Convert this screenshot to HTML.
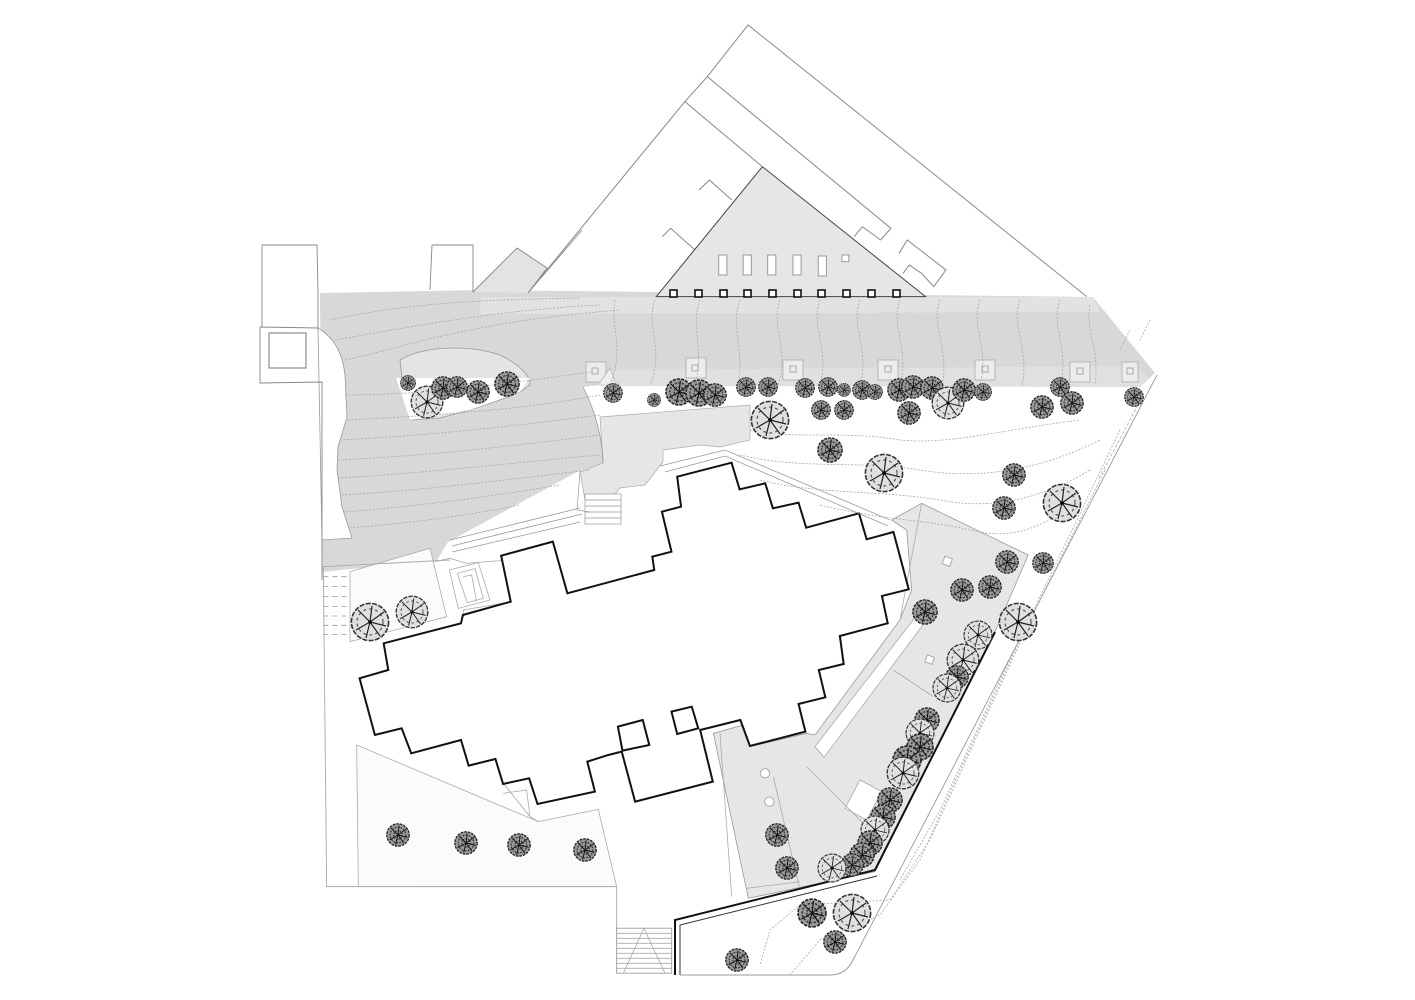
<!DOCTYPE html>
<html><head><meta charset="utf-8"><style>html,body{margin:0;padding:0;background:#fff}svg{display:block}</style></head>
<body>
<svg width="1415" height="1000" viewBox="0 0 1415 1000" xmlns="http://www.w3.org/2000/svg">
<defs>
<pattern id="st" width="4" height="4" patternUnits="userSpaceOnUse"><rect width="4" height="4" fill="#fff"/><circle cx="1" cy="1" r="0.5" fill="#bbb"/><circle cx="3" cy="3" r="0.4" fill="#ccc"/></pattern>
<symbol id="tD" viewBox="-10 -10 20 20">
<circle r="9.3" fill="#9a9a9a" stroke="#222" stroke-width="1.1" stroke-dasharray="2.2 0.8"/>
<circle r="6.5" fill="none" stroke="#333" stroke-width="1" stroke-dasharray="1.5 1"/>
<circle r="3.5" fill="none" stroke="#222" stroke-width="1" stroke-dasharray="1 1"/>
<path d="M0 0L7 -5M0 0L-6 -6M0 0L-7 4M0 0L5 7M0 0L1 -8M0 0L-2 8M0 0L8 2" stroke="#111" stroke-width="0.8"/>
</symbol>
<symbol id="tL" viewBox="-10 -10 20 20">
<circle r="9.3" fill="#e0e0e0" stroke="#333" stroke-width="0.8" stroke-dasharray="2.5 0.7"/>
<circle r="6.5" fill="none" stroke="#555" stroke-width="0.6" stroke-dasharray="1.5 1.5"/>
<path d="M0 0L7 -5M0 0L-6 -6M0 0L-7 4M0 0L5 7M0 0L1 -8M0 0L-2 8M0 0L8 2" stroke="#222" stroke-width="0.6"/>
<circle r="0.9" fill="#000"/>
</symbol>
</defs>

<!-- top outlines (zoom5 coordinates) -->
<g transform="translate(540,20) scale(0.408,0.3333)" fill="none" stroke="#888" stroke-width="1" vector-effect="non-scaling-stroke">
<path vector-effect="non-scaling-stroke" d="M0,775 L355,245 L410,170 L510,15 L1340,830"/>
<path vector-effect="non-scaling-stroke" d="M410,170 L860,625 L835,660 L790,620 L770,650"/>
<path vector-effect="non-scaling-stroke" d="M355,245 L545,440"/>
<path vector-effect="non-scaling-stroke" d="M390,510 L415,480 L470,540 M300,650 L320,625 L380,690"/>
<path vector-effect="non-scaling-stroke" d="M880,700 L900,660 L995,750 L965,800 L935,760 L905,735 L890,760"/>
</g>

<!-- big grey area -->
<path d="M320,293 L480,290 L1093,297 L1155,373 L1140,387 L600,385 L583,387 C595,410 603,440 603,463 L577,472 L448,542 L437,560 L322,572 Z" fill="#d8d8d8"/>
<path d="M480,297 L1093,297 L1100,312 L480,314 Z" fill="#e2e2e2"/>
<path d="M600,370 L1130,366 L1150,378 L1140,387 L600,386 Z" fill="#e0e0e0"/>
<path d="M473,292 L517,248 L547,268 L528,293 Z" fill="#e3e3e3"/>
<!-- white notch left -->
<path d="M318,328 C335,338 343,355 345,375 L347,417 L338,447 L337,470 L342,507 L352,538 L322,540 Z" fill="#fff" stroke="#999" stroke-width="0.8"/>
<!-- left blocks -->
<path d="M262,245 L317,245 L318,293 L318,328 L260,327 L260,383 L322,382 L322,580 M432,245 L473,245 L473,292 M432,245 L430,290 M473,292 L517,248 L547,268 L528,293" fill="none" stroke="#888" stroke-width="0.9"/>
<path d="M262,245 L262,327" stroke="#888" stroke-width="0.9"/>
<rect x="269" y="333" width="37" height="35" fill="none" stroke="#777" stroke-width="1"/>
<path d="M528,293 L582,230" stroke="#888" stroke-width="0.9"/>

<!-- triangle building (zoom5) -->
<g transform="translate(540,20) scale(0.408,0.3333)">
<path d="M285,830 L545,440 L945,830 Z" fill="#e6e6e6" stroke="#444" stroke-width="1" vector-effect="non-scaling-stroke"/>
<g fill="#fff" stroke="#999" stroke-width="1">
<rect x="438" y="705" width="20" height="60" vector-effect="non-scaling-stroke"/>
<rect x="498" y="705" width="20" height="60" vector-effect="non-scaling-stroke"/>
<rect x="558" y="705" width="20" height="60" vector-effect="non-scaling-stroke"/>
<rect x="620" y="705" width="20" height="60" vector-effect="non-scaling-stroke"/>
<rect x="682" y="708" width="20" height="60" vector-effect="non-scaling-stroke"/>
<rect x="740" y="705" width="17" height="20" vector-effect="non-scaling-stroke"/>
</g>
</g>
<g fill="#fff" stroke="#111" stroke-width="1.6">
<rect x="670" y="290" width="7" height="7"/><rect x="695" y="290" width="7" height="7"/><rect x="720" y="290" width="7" height="7"/><rect x="744" y="290" width="7" height="7"/><rect x="769" y="290" width="7" height="7"/><rect x="794" y="290" width="7" height="7"/><rect x="818" y="290" width="7" height="7"/><rect x="843" y="290" width="7" height="7"/><rect x="868" y="290" width="7" height="7"/><rect x="893" y="290" width="7" height="7"/>
</g>
<!-- band squares -->
<g fill="#ececec" stroke="#aaa" stroke-width="0.8">
<rect x="586" y="362" width="20" height="20"/><rect x="686" y="358" width="20" height="20"/><rect x="783" y="360" width="20" height="20"/><rect x="878" y="360" width="20" height="20"/><rect x="975" y="360" width="20" height="20"/><rect x="1070" y="362" width="20" height="20"/><rect x="1122" y="362" width="16" height="20"/>
</g>
<g fill="none" stroke="#999" stroke-width="0.8">
<rect x="592" y="368" width="6" height="6"/><rect x="692" y="365" width="6" height="6"/><rect x="790" y="366" width="6" height="6"/><rect x="885" y="366" width="6" height="6"/><rect x="982" y="366" width="6" height="6"/><rect x="1077" y="368" width="6" height="6"/><rect x="1127" y="368" width="6" height="6"/>
</g>
<!-- left planting bed -->
<path d="M400,360 C425,345 470,345 500,355 C520,365 530,375 530,385 L520,392 L500,400 L470,410 L440,418 L410,420 L404,395 Z" fill="#e4e4e4" stroke="#999" stroke-width="0.8"/>
<path d="M396,378 L530,378 L520,392 L470,410 L410,420 Z" fill="#fff"/>

<!-- light grey upper-middle patch -->
<path d="M600,417 L750,405 L750,440 L720,447 L700,445 L663,450 L663,462 L645,485 L620,488 L610,500 L585,500 L580,472 L603,463 Z" fill="#e6e6e6" stroke="#aaa" stroke-width="0.7"/>
<path d="M583,387 C595,410 603,440 603,463" fill="none" stroke="#999" stroke-width="0.8"/>
<path d="M600,385 L600,382 L610,368 L615,382" fill="#eee" stroke="#aaa" stroke-width="0.7"/>
<!-- stairs -->
<g stroke="#999" stroke-width="0.7" fill="#fff">
<rect x="585" y="494" width="36" height="30"/>
<path d="M585,500H621M585,506H621M585,512H621M585,518H621" fill="none"/>
<path d="M580,472 L577,510 L590,512" fill="none"/>
</g>
<!-- walls -->
<g fill="none" stroke="#999" stroke-width="0.8">
<path d="M450,540 L580,508 M452,546 L582,514 M452,552 L580,522"/>
<path d="M660,466 L725,450 L890,520 M665,472 L725,456 L888,526"/>
</g>

<!-- right light grey area (zoom3) -->
<g transform="translate(700,480) scale(0.3333)">
<path vector-effect="non-scaling-stroke" d="M575,120 L665,70 L985,225 L885,455 L525,1175 L145,1255 L40,760 L130,735 L150,800 L320,760 L345,765 L600,420 L635,330 L620,150 Z" fill="#e6e6e6" stroke="#999" stroke-width="0.8"/>
<path vector-effect="non-scaling-stroke" d="M345,800 L655,400 L680,420 L372,832 Z" fill="#fff" stroke="#aaa" stroke-width="0.8"/>
<path vector-effect="non-scaling-stroke" d="M435,985 L480,900 L545,935 L500,1020 Z" fill="#fff" stroke="#aaa" stroke-width="0.8"/>
<path vector-effect="non-scaling-stroke" d="M0,745 L0,915 L40,905 M60,760 L95,1250 M220,890 L300,1230 M140,1225 L300,1205 M320,860 L500,1040 M580,570 L700,650 M665,70 L600,420" fill="none" stroke="#aaa" stroke-width="0.8"/>
<rect x="730" y="232" width="24" height="24" transform="rotate(20 742 244)" fill="#fff" stroke="#aaa" vector-effect="non-scaling-stroke"/>
<rect x="678" y="528" width="22" height="22" transform="rotate(20 689 539)" fill="#fff" stroke="#aaa" vector-effect="non-scaling-stroke"/>
<circle cx="195" cy="880" r="14" fill="#fff" stroke="#aaa" vector-effect="non-scaling-stroke"/>
<circle cx="208" cy="965" r="14" fill="#fff" stroke="#aaa" vector-effect="non-scaling-stroke"/>
</g>

<!-- bottom-left (zoom4) -->
<g transform="translate(250,540) scale(0.3333)">
<path vector-effect="non-scaling-stroke" d="M320,615 L865,845 L1045,808 L1100,1040 L325,1040 Z" fill="url(#st)" stroke="#aaa" stroke-width="0.8"/>
<path vector-effect="non-scaling-stroke" d="M300,95 L540,25 L590,230 L300,305 Z" fill="url(#st)" stroke="#aaa" stroke-width="0.8"/>
<path vector-effect="non-scaling-stroke" d="M220,80 L230,1040 L1100,1040 L1100,1300 M220,80 L600,60" fill="none" stroke="#aaa" stroke-width="0.9"/>
<path vector-effect="non-scaling-stroke" d="M220,110H295M220,140H295M220,170H295M220,200H295M220,228H295M220,256H295M220,284H295" fill="none" stroke="#999" stroke-dasharray="5 4" stroke-width="0.8"/>
<path vector-effect="non-scaling-stroke" d="M555,65 L600,55 L650,70 L775,60 L785,185 L640,210 L640,240" fill="none" stroke="#aaa" stroke-width="0.8"/>
<path vector-effect="non-scaling-stroke" d="M598,90 L685,68 L720,180 L625,205 Z M622,100 L675,86 L700,175 L652,188 Z M640,110 L665,105 L680,185" fill="none" stroke="#aaa" stroke-width="0.8"/>
<path vector-effect="non-scaling-stroke" d="M760,730 L840,830 L865,845 M760,760 L830,750 L840,830" fill="none" stroke="#aaa" stroke-width="0.8"/>
<rect x="1100" y="1165" width="165" height="135" fill="#fff" stroke="#aaa" vector-effect="non-scaling-stroke"/>
<path vector-effect="non-scaling-stroke" d="M1100,1180H1265M1100,1195H1265M1100,1210H1265M1100,1225H1265M1100,1240H1265M1100,1255H1265M1100,1270H1265M1100,1285H1265M1120,1300L1182,1165L1245,1300" fill="none" stroke="#aaa" stroke-width="0.8"/>
</g>

<!-- main building (zoom2) -->
<g transform="translate(350,460) scale(0.3827,0.3333)" fill="#fff" stroke="#111" stroke-width="2">
<path vector-effect="non-scaling-stroke" d="M855,50 L997,8 L1018,88 L1085,70 L1105,145 L1172,128 L1192,203 L1330,160 L1350,238 L1420,216 L1460,388 L1390,408 L1405,490 L1280,528 L1290,612 L1225,630 L1242,712 L1172,732 L1190,815 L1045,858 L1020,780 L915,810 L948,965 L745,1025 L710,875 L675,885 L620,905 L640,995 L490,1032 L468,955 L400,972 L380,897 L310,917 L290,840 L160,880 L135,805 L65,825 L25,655 L100,630 L88,550 L290,490 L295,465 L420,425 L395,287 L530,245 L568,400 L795,330 L790,290 L840,275 L815,155 L865,140 Z"/>
<path vector-effect="non-scaling-stroke" d="M840,755 L893,740 L910,805 L855,822 Z"/>
<path vector-effect="non-scaling-stroke" d="M700,800 L765,780 L782,855 L712,872 Z"/>
</g>

<!-- bottom-right wall and boundary -->
<path d="M675,975 L675,920 L875,870 L995,632" fill="none" stroke="#111" stroke-width="2"/>
<path d="M680,975 L680,925 L877,876" fill="none" stroke="#333" stroke-width="1"/>
<path d="M1157,375 L853,960 Q846,975 830,975 L680,975" fill="none" stroke="#999" stroke-width="0.9"/>
<path d="M1138,405 L1098,480" fill="none" stroke="#aaa" stroke-width="0.8" stroke-dasharray="3 2"/>

<!-- contours -->
<g fill="none" stroke="#a8a8a8" stroke-width="0.8" stroke-dasharray="2 1.5">
<path d="M615,300 C610,325 625,350 610,385"/><path d="M655,300 C645,325 665,350 650,385"/><path d="M700,300 C690,325 705,350 695,385"/><path d="M740,300 C730,325 745,350 738,385"/><path d="M780,300 C770,325 790,350 778,385"/><path d="M820,300 C810,325 830,350 820,385"/><path d="M860,300 C850,325 870,350 860,385"/><path d="M900,300 C890,325 910,350 900,385"/><path d="M940,300 C930,325 950,350 942,385"/><path d="M980,300 C970,325 990,350 980,385"/><path d="M1020,300 C1010,325 1030,350 1022,385"/><path d="M1060,300 C1050,325 1070,350 1060,385"/><path d="M1090,305 C1085,330 1100,350 1095,385"/>
<path d="M330,320 C400,305 460,300 580,298"/><path d="M335,340 C420,325 500,310 600,305"/><path d="M345,360 C390,350 420,340 470,330 C520,320 560,315 620,310"/>
<path d="M345,395 C420,395 500,385 590,372"/><path d="M348,420 C440,415 520,410 600,395"/><path d="M340,440 C440,435 520,425 600,415"/><path d="M338,460 C440,455 520,445 600,435"/><path d="M338,478 C440,472 520,462 600,455"/><path d="M342,495 C430,490 520,478 590,470"/><path d="M345,512 C430,505 500,495 560,485"/><path d="M350,528 C420,522 470,515 520,505"/>
<path d="M750,430 C800,440 840,430 900,440 C950,445 1000,430 1080,420"/><path d="M740,455 C800,470 860,460 920,470 C980,480 1040,470 1100,440"/><path d="M760,480 C820,495 880,490 940,500 C990,510 1040,500 1090,470"/><path d="M820,505 C880,520 930,520 970,530 C1010,540 1040,530 1080,500"/>
<path d="M1120,430 L1060,555 L1000,680 L940,810 L900,880"/><path d="M1105,470 L1040,600 L980,730 L930,840 L890,900 L800,905 L770,930 L760,965"/><path d="M1080,520 L1020,640 L960,770 L920,860 L880,915 L820,940 L790,975"/>
<path d="M1150,320 L1140,340 M1130,330 L1120,350"/>
</g>

<!-- trees -->
<g>
<use href="#tD" x="400" y="375" width="16" height="16"/>
<use href="#tL" x="410" y="385" width="34" height="34"/>
<use href="#tD" x="431" y="376" width="24" height="24"/>
<use href="#tD" x="446" y="376" width="22" height="22"/>
<use href="#tD" x="466" y="380" width="24" height="24"/>
<use href="#tD" x="494" y="371" width="26" height="26"/>
<use href="#tD" x="603" y="383" width="20" height="20"/>
<use href="#tD" x="647" y="393" width="14" height="14"/>
<use href="#tD" x="665" y="378" width="28" height="28"/>
<use href="#tD" x="685" y="379" width="28" height="28"/>
<use href="#tD" x="703" y="383" width="24" height="24"/>
<use href="#tD" x="736" y="377" width="20" height="20"/>
<use href="#tD" x="758" y="377" width="20" height="20"/>
<use href="#tL" x="750" y="400" width="40" height="40"/>
<use href="#tD" x="795" y="378" width="20" height="20"/>
<use href="#tD" x="818" y="377" width="20" height="20"/>
<use href="#tD" x="837" y="383" width="14" height="14"/>
<use href="#tD" x="852" y="380" width="20" height="20"/>
<use href="#tD" x="867" y="384" width="16" height="16"/>
<use href="#tD" x="811" y="400" width="20" height="20"/>
<use href="#tD" x="834" y="400" width="20" height="20"/>
<use href="#tD" x="887" y="378" width="24" height="24"/>
<use href="#tD" x="901" y="375" width="24" height="24"/>
<use href="#tD" x="920" y="376" width="24" height="24"/>
<use href="#tL" x="931" y="386" width="34" height="34"/>
<use href="#tD" x="897" y="401" width="24" height="24"/>
<use href="#tD" x="952" y="378" width="24" height="24"/>
<use href="#tD" x="974" y="383" width="18" height="18"/>
<use href="#tD" x="1050" y="377" width="20" height="20"/>
<use href="#tD" x="1030" y="395" width="24" height="24"/>
<use href="#tD" x="1060" y="391" width="24" height="24"/>
<use href="#tD" x="1124" y="387" width="20" height="20"/>
<use href="#tD" x="817" y="437" width="26" height="26"/>
<use href="#tL" x="864" y="453" width="40" height="40"/>
<use href="#tD" x="1002" y="463" width="24" height="24"/>
<use href="#tD" x="992" y="496" width="24" height="24"/>
<use href="#tL" x="1042" y="483" width="40" height="40"/>
<use href="#tD" x="995" y="550" width="24" height="24"/>
<use href="#tD" x="1032" y="552" width="22" height="22"/>
<use href="#tD" x="950" y="578" width="24" height="24"/>
<use href="#tD" x="978" y="575" width="24" height="24"/>
<use href="#tD" x="912" y="599" width="26" height="26"/>
<use href="#tL" x="998" y="602" width="40" height="40"/>
<use href="#tL" x="963" y="620" width="30" height="30"/>
<use href="#tL" x="946" y="643" width="34" height="34"/>
<use href="#tD" x="945" y="665" width="24" height="24"/>
<use href="#tL" x="932" y="673" width="30" height="30"/>
<use href="#tD" x="914" y="707" width="26" height="26"/>
<use href="#tL" x="905" y="718" width="30" height="30"/>
<use href="#tD" x="906" y="733" width="28" height="28"/>
<use href="#tD" x="892" y="745" width="30" height="30"/>
<use href="#tL" x="886" y="756" width="34" height="34"/>
<use href="#tD" x="877" y="787" width="26" height="26"/>
<use href="#tD" x="870" y="804" width="26" height="26"/>
<use href="#tL" x="860" y="815" width="30" height="30"/>
<use href="#tD" x="857" y="830" width="26" height="26"/>
<use href="#tD" x="849" y="842" width="26" height="26"/>
<use href="#tD" x="840" y="853" width="24" height="24"/>
<use href="#tL" x="817" y="853" width="30" height="30"/>
<use href="#tD" x="765" y="823" width="24" height="24"/>
<use href="#tD" x="775" y="856" width="24" height="24"/>
<use href="#tD" x="797" y="898" width="30" height="30"/>
<use href="#tL" x="832" y="893" width="40" height="40"/>
<use href="#tD" x="823" y="930" width="24" height="24"/>
<use href="#tD" x="725" y="948" width="24" height="24"/>
<use href="#tL" x="350" y="602" width="40" height="40"/>
<use href="#tL" x="395" y="595" width="34" height="34"/>
<use href="#tD" x="386" y="823" width="24" height="24"/>
<use href="#tD" x="454" y="831" width="24" height="24"/>
<use href="#tD" x="507" y="833" width="24" height="24"/>
<use href="#tD" x="573" y="838" width="24" height="24"/>
</g>
</svg>
</body></html>
